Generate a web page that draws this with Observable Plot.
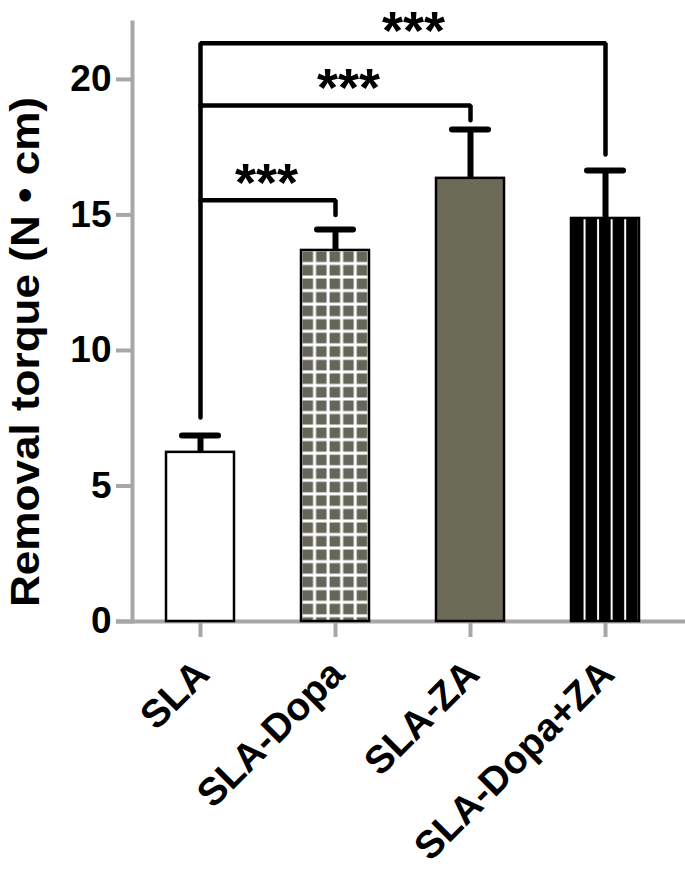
<!DOCTYPE html>
<html>
<head>
<meta charset="utf-8">
<script src="https://cdn.jsdelivr.net/npm/d3@7"></script>
<script src="https://cdn.jsdelivr.net/npm/@observablehq/plot@0.6"></script>
<style>
  html, body { margin: 0; padding: 0; background: #fff; }
  #chart svg { display: block; }
</style>
</head>
<body>
<div id="chart"></div>
<script>
// ---- data ----
const categories = ["SLA", "SLA-Dopa", "SLA-ZA", "SLA-Dopa+ZA"];
const means = [6.24, 13.69, 16.35, 14.87];
const errorTops = [6.86, 14.46, 18.15, 16.64];
const yTicks = [0, 5, 10, 15, 20];
const yLabel = "Removal torque (N \u2022 cm)";

// significance brackets (category, value)
const bracket1X = ["SLA", "SLA-Dopa", "SLA-Dopa"];
const bracket1Y = [15.54, 15.54, 15.0];
const bracket2X = ["SLA", "SLA-ZA", "SLA-ZA"];
const bracket2Y = [19.04, 19.04, 18.49];
const bracket3X = ["SLA", "SLA", "SLA-Dopa+ZA", "SLA-Dopa+ZA"];
const bracket3Y = [7.53, 21.33, 21.33, 17.23];
const starText = ["***", "***", "***"];
const starY = [15.54, 19.04, 21.33];

// ---- tables built from the arrays ----
const bars = categories.map((c, i) => ({cat: c, mean: means[i], err: errorTops[i]}));
const brackets = [
  ...bracket1X.map((x, i) => ({id: 1, x, y: bracket1Y[i]})),
  ...bracket2X.map((x, i) => ({id: 2, x, y: bracket2Y[i]})),
  ...bracket3X.map((x, i) => ({id: 3, x, y: bracket3Y[i]}))
];
const stars = starText.map((t, i) => ({t, x: "SLA", y: starY[i]}));

// ---- styles ----
const grey = "#a7a7aa";
const fillFor = {
  "SLA": "white",
  "SLA-Dopa": "url(#gridPat)",
  "SLA-ZA": "#6c6b58",
  "SLA-Dopa+ZA": "url(#stripePat)"
};
const font = "'Liberation Sans', Arial, Helvetica, sans-serif";
const starDx = [66, 148, 213];
const starDy = [1, 1, 6];

const chart = Plot.plot({
  width: 685,
  height: 873,
  marginLeft: 132,
  marginRight: 12,
  marginTop: 22,
  marginBottom: 252,
  style: {fontFamily: font, background: "white", overflow: "visible"},
  x: {domain: categories, paddingInner: 0.5, paddingOuter: 0.25, label: null},
  y: {domain: [0, 22.1], label: null},
  color: {type: "identity"},
  marks: [
    Plot.frame({anchor: "left", stroke: grey, strokeWidth: 4}),
    Plot.ruleY([0], {stroke: grey, strokeWidth: 4, insetLeft: -16, insetRight: -12}),
    Plot.axisY({ticks: yTicks, tickSize: 16, tickPadding: 5, stroke: grey, strokeWidth: 4,
      fill: "black", fontSize: 37, fontWeight: "bold", label: null}),
    // x ticks only
    Plot.axisX({tickSize: 16, stroke: grey, strokeWidth: 4, fill: "none", label: null}),
    // x labels only
    Plot.axisX({tickSize: 0, tickPadding: 24, tickRotate: -45, fill: "black",
      fontSize: 39, fontWeight: "bold", label: null, dx: 2, dy: 22}),
    Plot.text([yLabel], {frameAnchor: "left", text: d => d, rotate: -90, dx: -106, dy: 30,
      textAnchor: "middle", fontSize: 40, fontWeight: "bold", fill: "black", className: "ytitle"}),
    Plot.ruleX(bars, {x: "cat", y1: "mean", y2: "err", stroke: "black", strokeWidth: 6}),
    Plot.tickY(bars, {x: "cat", y: "err", stroke: "black", strokeWidth: 6, strokeLinecap: "round",
      insetLeft: 16, insetRight: 16}),
    Plot.barY(bars, {x: "cat", y: "mean", fill: d => fillFor[d.cat], stroke: "black", strokeWidth: 2.5}),
    Plot.line(brackets, {x: "x", y: "y", z: "id", stroke: "black", strokeWidth: 4.5,
      strokeLinejoin: "miter", curve: "linear"}),
    ...stars.map((s, i) => Plot.text([s], {x: "x", y: "y", text: "t", dx: starDx[i], dy: starDy[i],
      lineAnchor: "bottom", fontSize: 54, fontWeight: "bold", fill: "black",
      style: {letterSpacing: "2px"}}))
  ]
});

// pattern definitions aligned with the bars through the plot's scales
const xs = chart.scale("x");
const ys = chart.scale("y");
const svg = d3.select(chart);
const defs = svg.insert("defs", ":first-child");
const step = 13.55;
const gx = xs.apply("SLA-Dopa");
const gy = ys.apply(means[1]);
const grid = defs.append("pattern").attr("id", "gridPat").attr("patternUnits", "userSpaceOnUse")
  .attr("width", step).attr("height", step).attr("x", gx).attr("y", gy);
grid.append("rect").attr("width", step).attr("height", step).attr("fill", "#66655a");
grid.append("rect").attr("x", 0).attr("y", 0).attr("width", 1.5).attr("height", step).attr("fill", "white");
grid.append("rect").attr("x", step - 1.5).attr("y", 0).attr("width", 1.5).attr("height", step).attr("fill", "white");
grid.append("rect").attr("x", 0).attr("y", 0).attr("width", step).attr("height", 1.5).attr("fill", "white");
grid.append("rect").attr("x", 0).attr("y", step - 1.5).attr("width", step).attr("height", 1.5).attr("fill", "white");
const sx = xs.apply("SLA-Dopa+ZA");
const stripes = defs.append("pattern").attr("id", "stripePat").attr("patternUnits", "userSpaceOnUse")
  .attr("width", step).attr("height", 20).attr("x", sx).attr("y", 0);
stripes.append("rect").attr("width", step).attr("height", 20).attr("fill", "black");
stripes.append("rect").attr("x", 0).attr("width", 1).attr("height", 20).attr("fill", "white");
stripes.append("rect").attr("x", step - 1).attr("width", 1).attr("height", 20).attr("fill", "white");

svg.selectAll(".ytitle text").attr("textLength", 510).attr("lengthAdjust", "spacingAndGlyphs");

document.getElementById("chart").appendChild(chart);
</script>
</body>
</html>
